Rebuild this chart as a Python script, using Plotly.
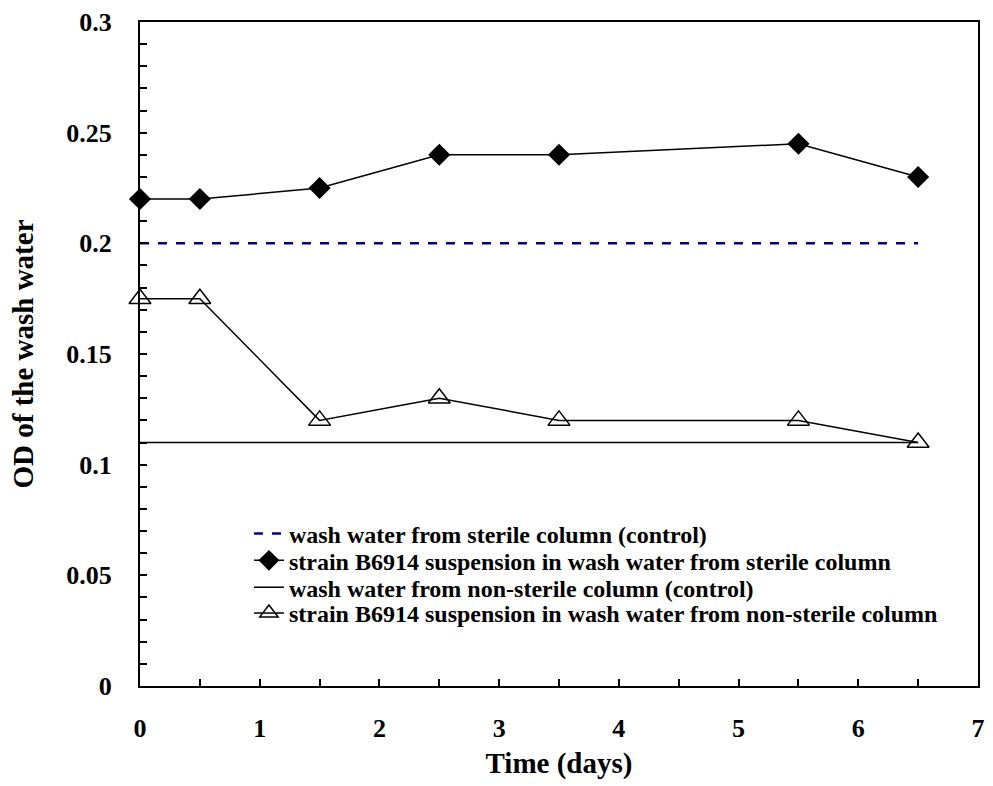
import plotly.graph_objects as go

days = [0, 0.5, 1.5, 2.5, 3.5, 5.5, 6.5]
sterile_strain = [0.22, 0.22, 0.225, 0.24, 0.24, 0.245, 0.23]
nonsterile_strain = [0.175, 0.175, 0.12, 0.13, 0.12, 0.12, 0.11]
control_days = [0, 6.5]
sterile_control = [0.2, 0.2]
nonsterile_control = [0.11, 0.11]

names = [
    "wash water from sterile column (control)",
    "strain B6914 suspension in wash water from sterile column",
    "wash water from non-sterile column (control)",
    "strain B6914 suspension in wash water from non-sterile column",
]

FONT = "Liberation Serif"

fig = go.Figure()
fig.add_trace(go.Scatter(x=control_days, y=sterile_control, mode="lines", name=names[0],
                         legend="legend",
                         line=dict(color="#000080", width=2.5, dash="dash")))
fig.add_trace(go.Scatter(x=days, y=sterile_strain, mode="lines+markers", name=names[1],
                         legend="legend2",
                         line=dict(color="black", width=1.5),
                         marker=dict(symbol="diamond", size=17, color="black"),
                         cliponaxis=False))
fig.add_trace(go.Scatter(x=control_days, y=nonsterile_control, mode="lines", name=names[2],
                         legend="legend3",
                         line=dict(color="black", width=1.5)))
fig.add_trace(go.Scatter(x=days, y=nonsterile_strain, mode="lines+markers", name=names[3],
                         legend="legend4",
                         line=dict(color="black", width=1.5),
                         marker=dict(symbol="triangle-up-open", size=19, color="black",
                                     line=dict(width=1.5, color="black")),
                         cliponaxis=False))

def leg(y):
    return dict(x=0.13, y=y, xanchor="left", yanchor="middle",
                bgcolor="rgba(0,0,0,0)", font=dict(size=24, family=FONT, weight="bold"),
                itemwidth=30)

fig.update_layout(
    width=993, height=786,
    margin=dict(l=140, r=8, t=18, b=100),
    paper_bgcolor="white", plot_bgcolor="white",
    font=dict(family=FONT, color="black"),
    showlegend=True,
    legend=leg(0.229), legend2=leg(0.1886), legend3=leg(0.1482), legend4=leg(0.1093),
    xaxis=dict(range=[0, 7], dtick=1, tick0=0, showgrid=False, zeroline=False,
               showline=True, linecolor="black", linewidth=2, mirror=True,
               ticks="inside", ticklen=7, tickwidth=1.5, tickcolor="black",
               minor=dict(dtick=0.5, ticks="inside", ticklen=7, tickwidth=1.5, tickcolor="black"),
               tickfont=dict(size=26, family=FONT, weight="bold"),
               ticklabelstandoff=18,
               title=dict(text="Time (days)", font=dict(size=29, family=FONT, weight="bold"), standoff=10)),
    yaxis=dict(range=[0, 0.3], dtick=0.05, tick0=0, showgrid=False, zeroline=False,
               showline=True, linecolor="black", linewidth=2, mirror=True,
               ticks="inside", ticklen=7, tickwidth=1.5, tickcolor="black",
               minor=dict(dtick=0.01, ticks="inside", ticklen=7, tickwidth=1.5, tickcolor="black"),
               tickformat="~g",
               tickfont=dict(size=26, family=FONT, weight="bold"),
               ticklabelstandoff=21,
               title=dict(text="OD of the wash water", font=dict(size=29, family=FONT, weight="bold"), standoff=24)),
)

fig.write_html("out.html")
